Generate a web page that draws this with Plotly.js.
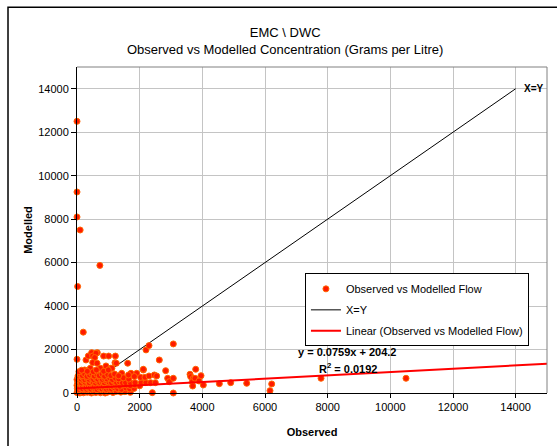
<!DOCTYPE html>
<html>
<head>
<meta charset="utf-8">
<script src="https://cdn.plot.ly/plotly-3.0.1.min.js"></script>
<style>html,body{margin:0;padding:0;background:#fff;}#chart{width:557px;height:446px;}</style>
</head>
<body>
<div id="chart"></div>
<script>
// Observed vs Modelled
const observed = [
  0,0,0,100,730,20,200,
  0,287,361,468,648,500,606,565,850,1010,1225,500,640,1213,1255,1617,925,1075,1115,745,425,245,2202,2298,3074,2627,2830,2117,1426,1723,1905,
  0,40,90,150,210,270,330,400,460,520,600,680,750,830,900,980,1050,1150,1250,1400,1530,1700,
  10,60,120,180,250,310,370,440,500,570,640,710,790,860,940,1010,1100,1190,1300,1420,1560,1680,1820,
  0,50,110,170,230,290,350,420,480,550,620,690,760,830,900,970,1040,1120,1200,1290,1370,1460,1580,1700,1850,2000,
  20,80,140,200,260,330,390,450,520,590,650,720,800,870,940,1020,1100,1180,1260,1350,1450,1550,1700,1850,2050,2200,2350,2500,
  0,60,130,190,250,320,380,460,530,600,660,740,810,880,960,1040,1130,1230,1330,1480,1650,1830,2030,2170,1643,
  30,100,170,240,320,400,470,550,630,710,800,880,980,1080,1200,1330,2298,2468,2543,
  60,150,330,520,620,850,1000,2117,
  2893,2946,3074,3074,2404,3607,3628,3788,3958,3713,3681,3692,3766,3894,4032,4543,4905,5416,6214,6160,7788,10500
];
const modelled = [
  12500,9250,8100,7500,5870,4900,2800,
  1550,1520,1705,1857,1857,1700,1830,1630,1700,1700,1700,1400,1370,1396,1370,1370,1245,1138,1140,1140,1140,1060,1982,2180,2258,1520,1028,1060,907,907,907,
  20,80,0,60,10,90,30,70,0,50,20,80,10,60,0,40,90,20,70,40,60,30,
  200,160,230,190,240,170,220,180,250,200,160,230,190,240,170,210,180,240,200,170,230,190,210,
  350,310,380,330,390,320,370,340,390,310,360,330,390,320,370,340,400,320,380,350,310,390,369,340,369,330,
  480,520,460,540,490,530,470,550,500,460,540,490,520,470,550,500,470,540,490,520,470,475,475,475,475,475,475,475,
  620,680,640,700,610,670,630,690,620,680,640,700,620,670,640,700,620,680,650,700,640,760,720,723,830,
  780,850,800,880,760,830,900,780,860,800,880,770,850,800,870,790,783,830,783,
  980,1050,1000,980,1060,1000,1060,1092,
  677,521,677,0,15,862,751,1092,797,677,521,322,677,553,369,429,475,447,415,106,677,677
];
// Excel linear trendline and reference line
const trendSlope = 0.0759;
const trendIntercept = 204.2;
const trendText = 'y = 0.0759x + 204.2';
const r2Text = 'R<sup>2</sup> = 0.0192';
const xRange = [0, 15000];
const yRange = [0, 15000];
const xyLineEnds = [0, 14000];
const xTicks = [0,2000,4000,6000,8000,10000,12000,14000];
const yTicks = [0,2000,4000,6000,8000,10000,12000,14000];

const FONT = 'Liberation Sans, Arial, sans-serif';

const traces = [
  {
    type: 'scatter', mode: 'lines', name: 'X=Y',
    x: xyLineEnds, y: xyLineEnds,
    line: {color: '#000000', width: 1},
    legendgroup: 'b', legendrank: 2, hoverinfo: 'skip'
  },
  {
    type: 'scatter', mode: 'markers', name: 'Observed vs Modelled Flow',
    x: observed, y: modelled,
    marker: {color: '#FF1A00', size: 6, line: {color: '#FF6600', width: 1}},
    legendgroup: 'a', legendrank: 1, cliponaxis: false
  },
  {
    type: 'scatter', mode: 'lines', name: 'Linear (Observed vs Modelled Flow)',
    x: xRange, y: xRange.map(v => trendSlope * v + trendIntercept),
    line: {color: '#FF0000', width: 2},
    legendgroup: 'c', legendrank: 3, hoverinfo: 'skip'
  }
];

const layout = {
  width: 557, height: 446,
  margin: {l: 77, r: 10, t: 67, b: 53, pad: 0},
  paper_bgcolor: '#ffffff', plot_bgcolor: '#ffffff',
  font: {family: FONT, size: 11, color: '#000000'},
  showlegend: true,
  title: {
    text: 'EMC \\ DWC<br>Observed vs Modelled Concentration (Grams per Litre)',
    font: {family: FONT, size: 13, color: '#000000'},
    xref: 'container', x: 0.512, xanchor: 'center',
    yref: 'container', y: 0.917, yanchor: 'top'
  },
  xaxis: {
    range: xRange, tickmode: 'array', tickvals: xTicks, ticktext: xTicks.map(String),
    showgrid: true, gridcolor: '#c4c4c4', gridwidth: 1, zeroline: false,
    showline: true, linecolor: '#000000', linewidth: 1,
    ticks: 'outside', ticklen: 4, tickcolor: '#000000',
    tickfont: {family: FONT, size: 11, color: '#000000'},
    title: {text: '<b>Observed</b>', font: {family: FONT, size: 11, color: '#000000'}, standoff: 16},
    fixedrange: true
  },
  yaxis: {
    range: yRange, tickmode: 'array', tickvals: yTicks, ticktext: yTicks.map(String),
    showgrid: true, gridcolor: '#c4c4c4', gridwidth: 1, zeroline: false,
    showline: true, linecolor: '#000000', linewidth: 1,
    ticks: 'outside', ticklen: 5, tickcolor: '#000000',
    tickfont: {family: FONT, size: 11, color: '#000000'},
    title: {text: '<b>Modelled</b>', font: {family: FONT, size: 11, color: '#000000'}, standoff: 3},
    fixedrange: true
  },
  legend: {
    x: 0.485, xanchor: 'left', y: 0.367, yanchor: 'top',
    bgcolor: '#ffffff', bordercolor: '#000000', borderwidth: 1,
    font: {family: FONT, size: 11, color: '#000000'},
    traceorder: 'grouped', tracegroupgap: 2,
    itemwidth: 30
  },
  shapes: [
    {type: 'line', xref: 'paper', yref: 'paper', x0: 0, x1: 1, y0: 1, y1: 1, line: {color: '#808080', width: 1}},
    {type: 'line', xref: 'paper', yref: 'paper', x0: 1, x1: 1, y0: 0, y1: 1, line: {color: '#808080', width: 1}},
    {type: 'rect', xref: 'paper', yref: 'paper', x0: -0.1468, x1: 1.06, y0: -0.19, y1: 1.183, line: {color: '#000000', width: 1.5}, fillcolor: 'rgba(0,0,0,0)'}
  ],
  annotations: [
    {x: xyLineEnds[1], y: xyLineEnds[1], xref: 'x', yref: 'y', text: '<b>X=Y</b>', showarrow: false, xanchor: 'left', yanchor: 'middle', xshift: 6, font: {family: FONT, size: 10, color: '#000000'}},
    {x: 8620, y: 1890, xref: 'x', yref: 'y', text: '<b>' + trendText + '</b>', showarrow: false, xanchor: 'center', yanchor: 'middle', font: {family: FONT, size: 11, color: '#000000'}},
    {x: 8650, y: 1150, xref: 'x', yref: 'y', text: '<b>' + r2Text + '</b>', showarrow: false, xanchor: 'center', yanchor: 'middle', font: {family: FONT, size: 11, color: '#000000'}}
  ]
};

Plotly.newPlot('chart', traces, layout, {displayModeBar: false, staticPlot: true});
</script>
</body>
</html>
